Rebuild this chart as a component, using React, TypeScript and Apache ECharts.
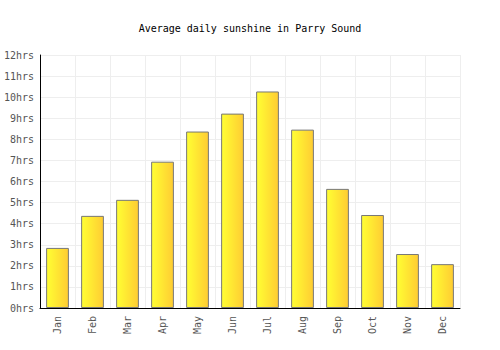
import React, { useEffect, useRef } from "react";
import * as echarts from "echarts";

const title = "Average daily sunshine in Parry Sound";
const months = ["Jan", "Feb", "Mar", "Apr", "May", "Jun", "Jul", "Aug", "Sep", "Oct", "Nov", "Dec"];
const sunshineHours = [2.85, 4.37, 5.13, 6.94, 8.37, 9.22, 10.27, 8.46, 5.65, 4.41, 2.56, 2.08];

export default function App() {
  const ref = useRef<HTMLDivElement>(null);
  useEffect(() => {
    if (!ref.current) return;
    const chart = echarts.init(ref.current, null, { renderer: "svg" });
    const font = "'DejaVu Sans Mono', monospace";
    chart.setOption({
      animation: false,
      backgroundColor: "#ffffff",
      title: {
        text: title,
        left: "center",
        top: 18,
        textStyle: { fontFamily: font, fontSize: 10, fontWeight: "normal", color: "#000" },
      },
      grid: { left: 40, right: 40, top: 55, bottom: 42 },
      xAxis: {
        type: "category",
        data: months,
        axisLine: { lineStyle: { color: "#000", width: 1 } },
        axisTick: { show: false },
        axisLabel: { rotate: 90, fontFamily: font, fontSize: 10, color: "#555", margin: 8 },
        splitLine: { show: true, lineStyle: { color: "#eeeeee" } },
      },
      yAxis: {
        type: "value",
        min: 0,
        max: 12,
        interval: 1,
        axisLine: { show: true, lineStyle: { color: "#000", width: 1 } },
        axisTick: { show: false },
        axisLabel: { formatter: "{value}hrs", fontFamily: font, fontSize: 10, color: "#555", margin: 6 },
        splitLine: { lineStyle: { color: "#eeeeee" } },
      },
      series: [
        {
          type: "bar",
          data: sunshineHours,
          barWidth: "65%",
          itemStyle: {
            color: new echarts.graphic.LinearGradient(0, 0, 1, 0, [
              { offset: 0, color: "#ffff33" },
              { offset: 1, color: "#ffcc33" },
            ]),
            borderColor: "#777777",
            borderWidth: 1,
          },
        },
      ],
    });
    return () => chart.dispose();
  }, []);
  return <div ref={ref} style={{ position: "absolute", left: 0, top: 0, width: 500, height: 350 }} />;
}
